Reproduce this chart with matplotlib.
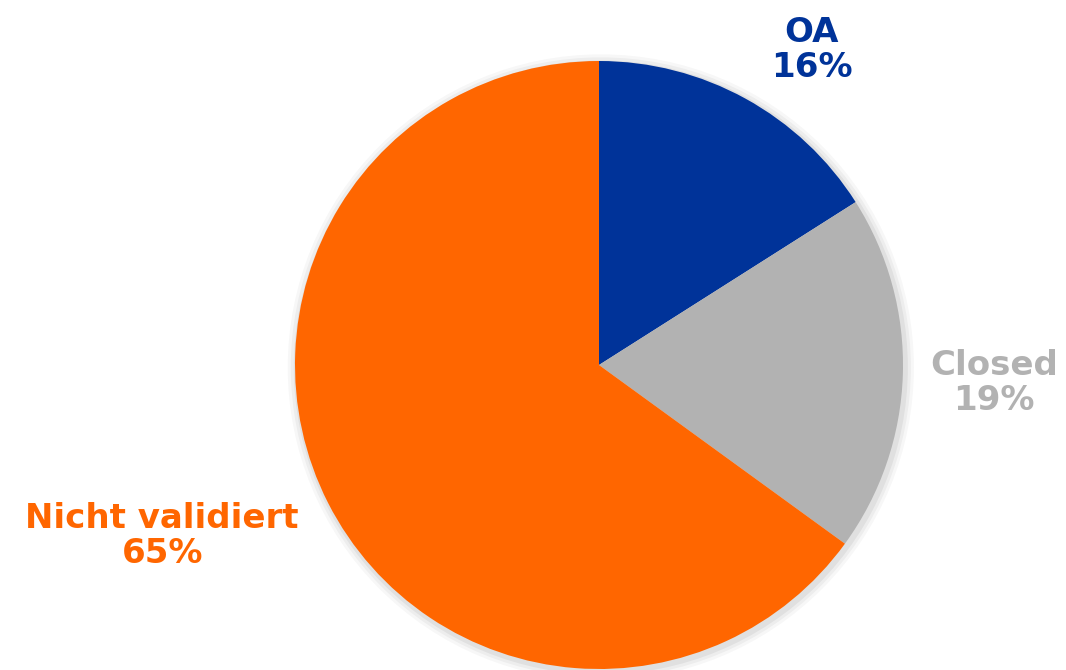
import matplotlib.pyplot as plt

labels = ['OA', 'Closed', 'Nicht validiert']
shares = [16, 19, 65]
colors = ['#003399', '#B2B2B2', '#FF6600']

fig = plt.figure(figsize=(10.66, 6.7), dpi=100)
ax = fig.add_axes([0, 0, 1, 1])

# soft shadow behind the pie
for i, a in enumerate([0.05, 0.04, 0.03]):
    sh = plt.Circle((0.006, -0.008), 1.0 + 0.01 * (i + 1), color='black', alpha=a, lw=0, zorder=0)
    ax.add_patch(sh)

ax.pie(shares, colors=colors, startangle=90, counterclock=False, radius=1.0,
       wedgeprops=dict(linewidth=0), center=(0, 0))

# label positions (data units, radius = 1)
label_pos = [(0.70, 1.036), (1.299, -0.058), (-1.437, -0.562)]
for lab, val, col, (x, y) in zip(labels, shares, colors, label_pos):
    ax.text(x, y, f'{lab}\n{val}%', color=col, fontsize=24.5, fontweight='bold',
            ha='center', va='center', linespacing=1.08)

ax.set_xlim(-599 / 304, 467 / 304)
ax.set_ylim(-305 / 304, 365 / 304)
ax.set_aspect('equal')
ax.axis('off')

fig.savefig('out.png', dpi=100, facecolor='white')
